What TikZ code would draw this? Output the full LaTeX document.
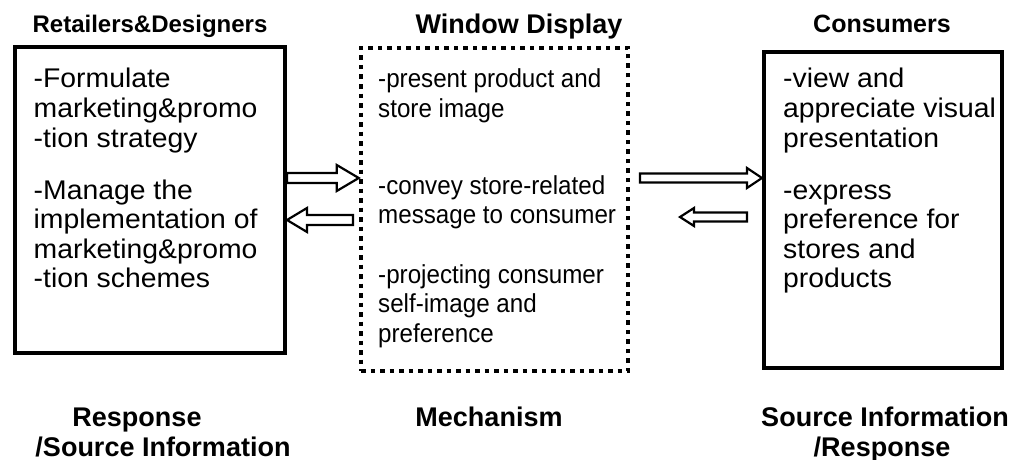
\documentclass[tikz,border=0pt]{standalone}
\usepackage{fontspec}
\setmainfont{Liberation Sans}
\newfontfamily\widesans[FakeStretch=1.05]{Liberation Sans}
\newfontfamily\narrowsans[FakeStretch=0.93]{Liberation Sans}
\usetikzlibrary{calc}
\tikzset{
  solidbox/.style={draw, line width=4pt, inner sep=0pt},
  dotbox/.style={draw, line width=4.5pt, dash pattern=on 4.5pt off 5pt, inner sep=0pt},
  head/.style={font=\bfseries\fontsize{24}{28}\selectfont, anchor=base, inner sep=0pt},
  foot/.style={font=\bfseries\fontsize{27}{30}\selectfont, anchor=base, inner sep=0pt},
  body/.style={font=\widesans\fontsize{27}{30}\selectfont, anchor=base west, inner sep=0pt},
  midbody/.style={font=\narrowsans\fontsize{26}{30}\selectfont, anchor=base west, inner sep=0pt},
  blockarrow/.style n args={3}{draw, line width=2.2pt, line join=miter, fill=white,
    to path={let \p1=(\tikztostart), \p2=(\tikztotarget),
      \p3=($(\tikztotarget)!#1!(\tikztostart)$) in
      (\x1,\y1+#3) -- (\x3,\y1+#3) -- (\x3,\y1+#2) -- (\x2,\y1)
      -- (\x3,\y1-#2) -- (\x3,\y1-#3) -- (\x1,\y1-#3) -- cycle}},
}
\begin{document}
\begin{tikzpicture}[x=1pt, y=-1pt]
\useasboundingbox (0,0) rectangle (1020,460);

% the three boxes
\node[solidbox, minimum width=270pt, minimum height=306pt] (L) at (150,200) {};
\node[dotbox, minimum width=267pt, minimum height=323pt] (M) at (494.5,209.5) {};
\node[solidbox, minimum width=238pt, minimum height=316pt] (R) at (883,210) {};

% headings
\node[head] (hl) at (150,33) {Retailers\&Designers};
\node[head, font=\bfseries\fontsize{27}{30}\selectfont] (hm) at (519,34) {Window Display};
\node[head, font=\bfseries\fontsize{25}{30}\selectfont] (hr) at (882,33) {Consumers};

% left column
\node[body] (l1) at (33.5,88) {-Formulate};
\node[body] (l2) at (33.5,117.5) {marketing\&promo};
\node[body] (l3) at (33.5,147) {-tion strategy};
\node[body] (l4) at (33.5,199) {-Manage the};
\node[body] (l5) at (33.5,228.5) {implementation of};
\node[body] (l6) at (33.5,258) {marketing\&promo};
\node[body] (l7) at (33.5,287.5) {-tion schemes};

% middle column
\node[midbody] (m1) at (378,88) {-present product and};
\node[midbody] (m2) at (378,117.5) {store image};
\node[midbody] (m3) at (378,194) {-convey store-related};
\node[midbody] (m4) at (378,223.5) {message to consumer};
\node[midbody] (m5) at (378,283) {-projecting consumer};
\node[midbody] (m6) at (378,312.5) {self-image and};
\node[midbody] (m7) at (378,342) {preference};

% right column
\node[body] (r1) at (783,88) {-view and};
\node[body] (r2) at (783,117.5) {appreciate visual};
\node[body] (r3) at (783,147) {presentation};
\node[body] (r4) at (783,199) {-express};
\node[body] (r5) at (783,228.5) {preference for};
\node[body] (r6) at (783,258) {stores and};
\node[body] (r7) at (783,287.5) {products};

% captions under the boxes
\node[foot] (fl1) at (137,426) {Response};
\node[foot] (fl2) at (163,456) {/Source Information};
\node[foot] (fm) at (489,426) {Mechanism};
\node[foot] (fr1) at (885,426) {Source Information};
\node[foot] (fr2) at (882,456) {/Response};

% hollow block arrows
\coordinate (a1s) at (L.east |- 0,178);
\coordinate (a1e) at (M.west |- 0,178);
\coordinate (a2s) at (353,220);
\coordinate (a2e) at (L.east |- 0,220);
\coordinate (a3s) at (640,178);
\coordinate (a3e) at (R.west |- 0,178);
\coordinate (a4s) at (747,217);
\coordinate (a4e) at (680,217);
\draw[blockarrow={22pt}{13pt}{5pt}] (a1s) to (a1e);
\draw[blockarrow={20pt}{12pt}{5pt}] (a2s) to (a2e);
\draw[blockarrow={15pt}{10pt}{4.5pt}] (a3s) to (a3e);
\draw[blockarrow={14pt}{9pt}{4.5pt}] (a4s) to (a4e);
\end{tikzpicture}
\end{document}
